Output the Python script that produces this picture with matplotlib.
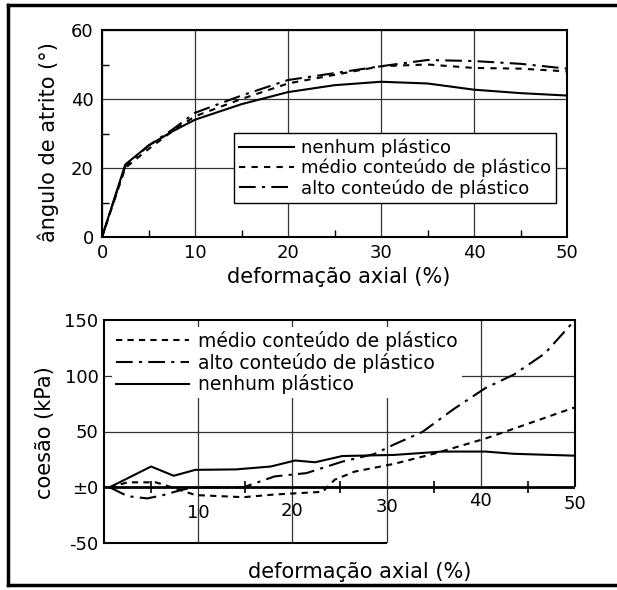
import numpy as np
import matplotlib.pyplot as plt
from matplotlib.lines import Line2D
from matplotlib.ticker import MultipleLocator

plt.rcParams['font.family'] = 'DejaVu Sans'

# upper panel: friction angle vs axial strain
x_top = [0, 2.5, 5, 7.5, 10, 15, 20, 25, 30, 35, 40, 45, 50]
nenhum_top = [0, 21, 26.5, 30.5, 34, 38.5, 42, 44, 45, 44.5, 42.7, 41.7, 41]
medio_top = [0, 20, 25.5, 30.5, 35, 40, 44.5, 47, 49.5, 50, 49, 48.8, 48]
alto_top = [0, 20.5, 26.5, 31, 36, 41, 45.5, 47.5, 49.5, 51.3, 51, 50.2, 48.8]

# lower panel: cohesion vs axial strain
nenhum_x = [0.6, 5, 7.4, 9.7, 14, 17.7, 20.3, 22.4, 25.3, 30.8, 35.9, 40.5, 43.5, 50]
nenhum_y = [0, 18.6, 10.3, 15.6, 16, 18.6, 24, 22.4, 28, 29, 32, 32, 30, 28.3]
medio_x = [0.6, 2.5, 5.5, 7.2, 9.7, 14.8, 18.1, 23.2, 24.5, 26.6, 30.8, 35, 40.5, 43.5, 50]
medio_y = [0, 4.4, 4.4, 0, -7, -8.9, -6.5, -4.1, 6.8, 14, 21, 30, 43.7, 52.5, 71.7]
alto_x = [0.6, 2.5, 4.6, 6.3, 8.4, 10, 14.8, 18.1, 21.5, 25.3, 28.7, 30.8, 33.8, 37.1, 40.5, 43.5, 46.8, 50]
alto_y = [0, -8, -10, -7, -2, 0, 0, 9.7, 12.7, 23, 29.8, 38.4, 49.6, 70, 89, 101, 120, 150]

bottom_xticks = [10, 20, 30, 40, 50]
bottom_xtick_y = [-23, -21, -17.7, -12.4, -15]
bottom_yticks = [-50, 0, 50, 100, 150]
bottom_ylabels = ['-50', '±0', '50', '100', '150']

W, H = 617, 590
fig = plt.figure(figsize=(W / 100, H / 100), dpi=100)

# ---- upper panel ----
ax1 = fig.add_axes([102 / W, 1 - 237 / H, 465 / W, 207 / H])
ax1.plot(x_top, nenhum_top, color='black', lw=1.5, label='nenhum plástico')
ax1.plot(x_top, medio_top, color='black', lw=1.5, dashes=(3, 3),
         label='médio conteúdo de plástico')
ax1.plot(x_top, alto_top, color='black', lw=1.5, dashes=(8, 3, 1.5, 3),
         label='alto conteúdo de plástico')
ax1.set_xlim(0, 50)
ax1.set_ylim(0, 60)
ax1.set_xticks([0, 10, 20, 30, 40, 50])
ax1.set_yticks([0, 20, 40, 60])
ax1.xaxis.set_minor_locator(MultipleLocator(5))
ax1.yaxis.set_minor_locator(MultipleLocator(10))
ax1.tick_params(which='major', length=0, labelsize=13)
ax1.tick_params(axis='x', which='major', pad=5)
ax1.tick_params(axis='y', which='major', pad=6)
ax1.tick_params(which='minor', direction='in', length=5, width=1)
ax1.grid(True, which='major', color='#333333', lw=0.9)
for s in ax1.spines.values():
    s.set_linewidth(1.5)
ax1.set_xlabel('deformação axial (%)', fontsize=15)
ax1.xaxis.set_label_coords(0.51, -0.145)
ax1.set_ylabel('ângulo de atrito (°)', fontsize=15)
ax1.yaxis.set_label_coords(-0.093, 0.46)
leg1 = ax1.legend(loc='upper left', bbox_to_anchor=(0.284, 0.502), borderaxespad=0,
                  fancybox=False, edgecolor='black', framealpha=1, fontsize=13,
                  handlelength=3, handletextpad=0.4, labelspacing=0.1, borderpad=0.3)
leg1.get_frame().set_linewidth(1)

# ---- lower panel ----
ax2 = fig.add_axes([104 / W, 1 - 543 / H, 471 / W, 223 / H])
ax2.plot(medio_x, medio_y, color='black', lw=1.5, dashes=(3, 2.5),
         label='médio conteúdo de plástico')
ax2.plot(alto_x, alto_y, color='black', lw=1.5, dashes=(8, 3, 1.5, 3),
         label='alto conteúdo de plástico')
ax2.plot(nenhum_x, nenhum_y, color='black', lw=1.5, label='nenhum plástico')
ax2.set_xlim(0, 50)
ax2.set_ylim(-50, 150)
ax2.spines['bottom'].set_visible(False)
ax2.spines['right'].set_visible(False)
ax2.spines['left'].set_linewidth(1.5)
ax2.spines['top'].set_linewidth(1.5)

ax2.vlines([10, 20, 30], -50, 150, color='#333333', lw=0.9, zorder=1)
ax2.vlines([40], 0, 150, color='#333333', lw=0.9, zorder=1)
ax2.hlines([50, 100], 0, 50, color='#333333', lw=0.9, zorder=1)
ax2.vlines([50], 0, 150, color='black', lw=1.5, clip_on=False)
ax2.hlines([-50], 0, 30, color='black', lw=1.5, clip_on=False)
ax2.axhline(0, color='black', lw=2)
ax2.plot(np.arange(5, 50, 10), np.zeros(5), ls='none', marker='|', ms=8,
         mew=1.2, color='black')

ax2.set_xticks([])
ax2.set_yticks(bottom_yticks)
ax2.set_yticklabels(bottom_ylabels)
ax2.tick_params(axis='y', length=0, labelsize=13, pad=4)
for xv, yv in zip(bottom_xticks, bottom_xtick_y):
    ax2.text(xv, yv, str(xv), fontsize=13, ha='center', va='center')

ax2.set_xlabel('deformação axial (%)', fontsize=15)
ax2.xaxis.set_label_coords(0.543, -0.085)
ax2.set_ylabel('coesão (kPa)', fontsize=15)
ax2.yaxis.set_label_coords(-0.104, 0.493)
leg2 = ax2.legend(loc='upper left', bbox_to_anchor=(0.017, 0.969), borderaxespad=0,
                  fancybox=False, edgecolor='none', facecolor='white', framealpha=1,
                  fontsize=13.5, handlelength=3.9, handletextpad=0.5,
                  labelspacing=0.1, borderpad=0.2)

# outer frame
lw_frame = 2.5
fig.add_artist(Line2D([8 / W, 8 / W], [1 - 585 / H, 1 - 5 / H], color='black', lw=lw_frame))
fig.add_artist(Line2D([8 / W, 1], [1 - 5 / H, 1 - 5 / H], color='black', lw=lw_frame))
fig.add_artist(Line2D([8 / W, 1], [1 - 585 / H, 1 - 585 / H], color='black', lw=lw_frame))

fig.savefig('out.png', dpi=100)
